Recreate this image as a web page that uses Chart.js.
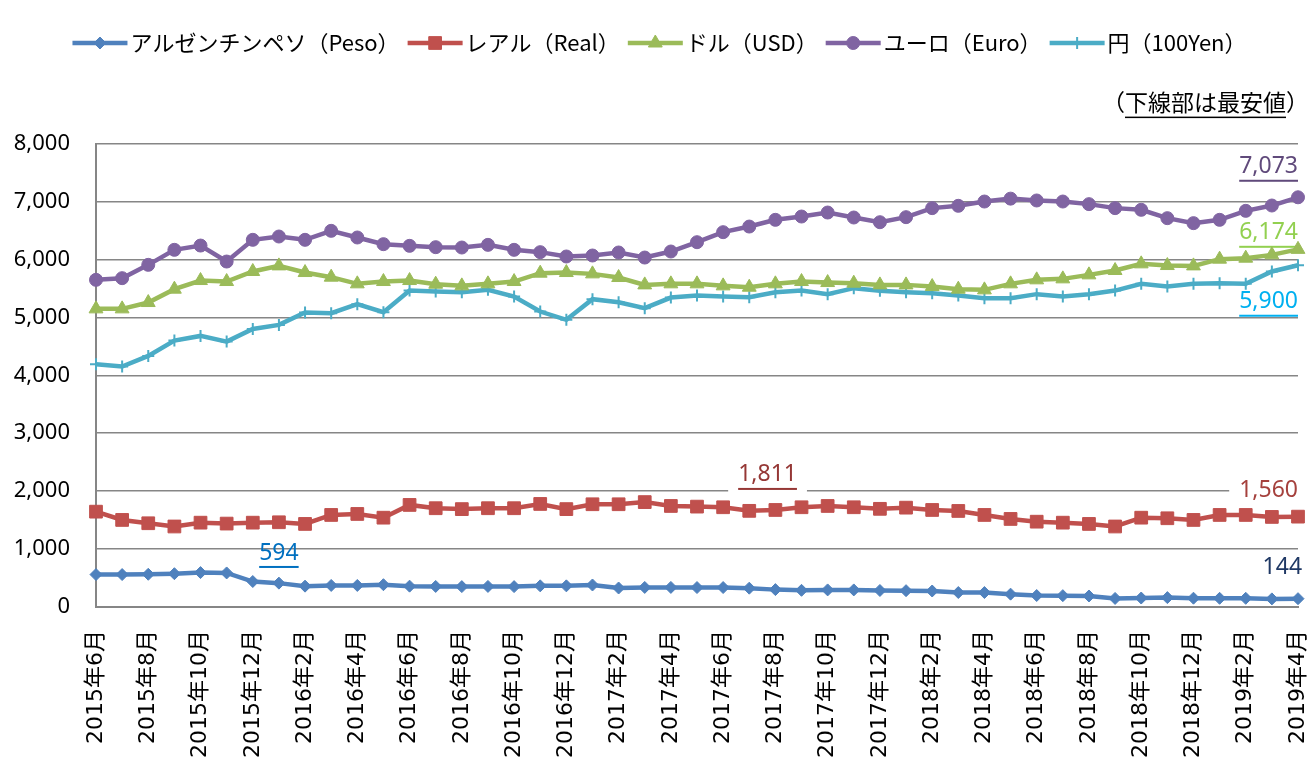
<!DOCTYPE html>
<html lang="ja">
<head>
<meta charset="utf-8">
<script src="https://cdn.jsdelivr.net/npm/chart.js@4.4.1/dist/chart.umd.min.js"></script>
<style>
  html, body { margin: 0; padding: 0; background: #fff; }
  #wrap { width: 1309px; height: 764px; position: relative; }
</style>
</head>
<body>
<div id="wrap"><canvas id="c"></canvas></div>
<script>
const months = [
  '2015年6月', '2015年7月', '2015年8月', '2015年9月', '2015年10月', '2015年11月', '2015年12月',
  '2016年1月', '2016年2月', '2016年3月', '2016年4月', '2016年5月', '2016年6月', '2016年7月',
  '2016年8月', '2016年9月', '2016年10月', '2016年11月', '2016年12月',
  '2017年1月', '2017年2月', '2017年3月', '2017年4月', '2017年5月', '2017年6月', '2017年7月',
  '2017年8月', '2017年9月', '2017年10月', '2017年11月', '2017年12月',
  '2018年1月', '2018年2月', '2018年3月', '2018年4月', '2018年5月', '2018年6月', '2018年7月',
  '2018年8月', '2018年9月', '2018年10月', '2018年11月', '2018年12月',
  '2019年1月', '2019年2月', '2019年3月', '2019年4月'
];

const peso = [560, 560, 565, 575, 594, 588, 440, 412, 360, 372, 372, 385, 360, 355, 352, 355,
  352, 365, 365, 380, 328, 338, 338, 336, 336, 325, 300, 288, 295, 295, 285, 282,
  276, 250, 250, 222, 198, 196, 190, 148, 155, 162, 152, 150, 150, 140, 144];
const real = [1646, 1503, 1446, 1390, 1456, 1440, 1456, 1463, 1434, 1589, 1606, 1542, 1762, 1705, 1690, 1705,
  1705, 1779, 1690, 1774, 1774, 1811, 1744, 1733, 1722, 1660, 1675, 1722, 1744, 1722, 1695, 1715,
  1675, 1658, 1589, 1520, 1473, 1456, 1434, 1390, 1542, 1532, 1503, 1589, 1589, 1555, 1560];
const usd = [5147, 5147, 5256, 5487, 5636, 5619, 5792, 5889, 5774, 5694, 5579, 5619, 5636, 5573, 5544, 5579,
  5619, 5763, 5774, 5751, 5688, 5561, 5579, 5579, 5544, 5521, 5579, 5619, 5601, 5590, 5561, 5561,
  5532, 5487, 5475, 5579, 5648, 5665, 5734, 5809, 5924, 5895, 5889, 6005, 6022, 6079, 6174];
const euro = [5648, 5677, 5907, 6166, 6240, 5964, 6339, 6396, 6339, 6494, 6379, 6264, 6235, 6212, 6206, 6252,
  6166, 6126, 6051, 6068, 6120, 6033, 6137, 6298, 6471, 6568, 6684, 6741, 6810, 6724, 6643, 6730,
  6886, 6926, 7000, 7050, 7018, 7000, 6955, 6886, 6857, 6713, 6627, 6684, 6839, 6931, 7073];
const yen = [4191, 4151, 4335, 4599, 4680, 4582, 4801, 4870, 5083, 5072, 5228, 5089, 5463, 5446, 5435, 5475,
  5360, 5101, 4957, 5314, 5262, 5159, 5342, 5377, 5360, 5349, 5435, 5463, 5401, 5504, 5458, 5435,
  5418, 5377, 5331, 5331, 5401, 5360, 5401, 5463, 5579, 5532, 5579, 5590, 5579, 5792, 5900];

const seriesNames = ['アルゼンチンペソ（Peso）', 'レアル（Real）', 'ドル（USD）', 'ユーロ（Euro）', '円（100Yen）'];
const yTicks = [0, 1000, 2000, 3000, 4000, 5000, 6000, 7000, 8000];

const JP = "'Noto Sans CJK JP', 'Noto Sans', sans-serif";
const NUM = "'Noto Sans', 'DejaVu Sans', sans-serif";
const XFONT = "'DejaVu Sans', 'Noto Sans CJK JP', sans-serif";
const fmt = v => v.toLocaleString('en-US');

// value labels: text from data, placed at [category index, y value]; line = underline
const notes = [
  { text: fmt(euro[46]), color: '#604a7b', at: 'right', y: 7600, line: true },
  { text: fmt(usd[46]),  color: '#92d050', at: 'right', y: 6460, line: true },
  { text: fmt(yen[46]),  color: '#00b0f0', at: 'right', y: 5270, line: true },
  { text: fmt(Math.max(...real)), color: '#953735', at: 25.7, y: 2280, line: true, mask: true },
  { text: fmt(real[46]), color: '#a5413d', at: 'right', y: 2020, line: false, mask: true },
  { text: fmt(peso[46]), color: '#1f3864', at: 45.4, y: 675, line: false },
  { text: fmt(Math.max(...peso)), color: '#0070c0', at: 7.0, y: 933, line: true }
];

const LEGEND_LINE = 55;

function ds(label, data, color, style, radius, bw) {
  return {
    label, data,
    borderColor: color, backgroundColor: color,
    pointBackgroundColor: color, pointBorderColor: color,
    pointStyle: style, pointRadius: radius, pointBorderWidth: bw,
    borderWidth: 4.5, tension: 0
  };
}

const valueNotes = {
  id: 'valueNotes',
  beforeDatasetsDraw(chart) {
    const { ctx, chartArea, scales: { x, y } } = chart;
    ctx.save();
    ctx.font = '23px ' + NUM;
    ctx.textBaseline = 'middle';
    for (const n of notes) {
      const w = ctx.measureText(n.text).width;
      const cx = n.at === 'right' ? chartArea.right - w / 2 : x.getPixelForValue(n.at);
      const cy = y.getPixelForValue(n.y);
      if (n.mask) {
        ctx.fillStyle = '#fff';
        ctx.fillRect(cx - w / 2 - 10, cy - 15, w + 20, 34);
      }
      ctx.fillStyle = n.color;
      ctx.textAlign = 'center';
      ctx.fillText(n.text, cx, cy);
      if (n.line) {
        ctx.fillRect(cx - w / 2, cy + 13, w, 2);
      }
    }
    ctx.restore();
  },
  afterDraw(chart) {
    // legend line + marker (legend box itself is left transparent)
    const legend = chart.legend;
    const ctx = chart.ctx;
    if (legend && legend.legendHitBoxes) {
      legend.legendHitBoxes.forEach((box, i) => {
        const d = chart.data.datasets[i];
        const cy = box.top + box.height / 2;
        ctx.save();
        ctx.strokeStyle = d.borderColor;
        ctx.lineWidth = 4.5;
        ctx.beginPath();
        ctx.moveTo(box.left, cy);
        ctx.lineTo(box.left + LEGEND_LINE, cy);
        ctx.stroke();
        ctx.fillStyle = d.pointBackgroundColor;
        ctx.strokeStyle = d.pointBorderColor;
        ctx.lineWidth = d.pointBorderWidth;
        Chart.helpers.drawPoint(ctx, { pointStyle: d.pointStyle, radius: d.pointRadius, borderWidth: d.pointBorderWidth, rotation: 0 },
          box.left + LEGEND_LINE / 2, cy);
        ctx.restore();
      });
    }
    // underline in the note title
    const t = chart.titleBlock;
    if (t) {
      ctx.save();
      ctx.font = '23px ' + JP;
      const full = '（下線部は最安値）';
      const right = t.right;
      const wAll = ctx.measureText(full).width;
      const wOpen = ctx.measureText('（').width;
      const wClose = ctx.measureText('）').width;
      const x0 = right - wAll + wOpen;
      const x1 = right - wClose;
      const yy = t.top + t.height - (t.options.padding.bottom || 0) + 1;
      ctx.fillStyle = '#000';
      ctx.fillRect(x0, yy, x1 - x0, 1.5);
      ctx.restore();
    }
  }
};

new Chart(document.getElementById('c'), {
  type: 'line',
  data: {
    labels: months,
    datasets: [
      ds(seriesNames[0], peso, '#4f81bd', 'rectRot', 6, 1),
      ds(seriesNames[1], real, '#c0504d', 'rect', 9, 1),
      ds(seriesNames[2], usd, '#9bbb59', 'triangle', 8, 1),
      ds(seriesNames[3], euro, '#8064a2', 'circle', 6.5, 1),
      ds(seriesNames[4], yen, '#4bacc6', 'cross', 6, 2)
    ]
  },
  options: {
    responsive: true,
    maintainAspectRatio: false,
    animation: false,
    locale: 'en-US',
    layout: { padding: { top: 24, left: 10, right: 0, bottom: 4 } },
    plugins: {
      tooltip: { enabled: false },
      legend: {
        position: 'top',
        labels: {
          boxWidth: 47, boxHeight: 4, padding: 8,
          color: '#000', font: { family: JP, size: 22 },
          generateLabels(chart) {
            return Chart.defaults.plugins.legend.labels.generateLabels(chart)
              .map(l => ({ ...l, lineWidth: 0, fillStyle: 'rgba(0,0,0,0)', strokeStyle: 'rgba(0,0,0,0)' }));
          }
        }
      },
      title: {
        display: true, text: '（下線部は最安値）', align: 'end', weight: 500,
        color: '#000', font: { family: JP, size: 23, weight: 'normal' },
        padding: { top: 24, bottom: 28 }
      }
    },
    scales: {
      x: {
        grid: { display: false, drawTicks: false },
        border: { color: '#868686', width: 2 },
        ticks: {
          autoSkip: false, maxRotation: 90, minRotation: 90, padding: 23,
          color: '#000', font: { family: XFONT, size: 22 },
          callback: (v, i) => (i % 2 === 0 ? months[i] : '')
        },
        afterFit: s => { s.height = 153; s.paddingLeft = 0; s.paddingRight = 11; }
      },
      y: {
        min: 0, max: 8000,
        afterBuildTicks: axis => { axis.ticks = yTicks.map(v => ({ value: v })); },
        grid: { color: '#868686', lineWidth: 1.5, drawTicks: false },
        border: { color: '#868686', width: 2 },
        ticks: { padding: 26, color: '#000', font: { family: NUM, size: 22 }, callback: v => fmt(v) },
        afterFit: s => { s.width = 86; }
      }
    }
  },
  plugins: [valueNotes]
});
</script>
</body>
</html>
